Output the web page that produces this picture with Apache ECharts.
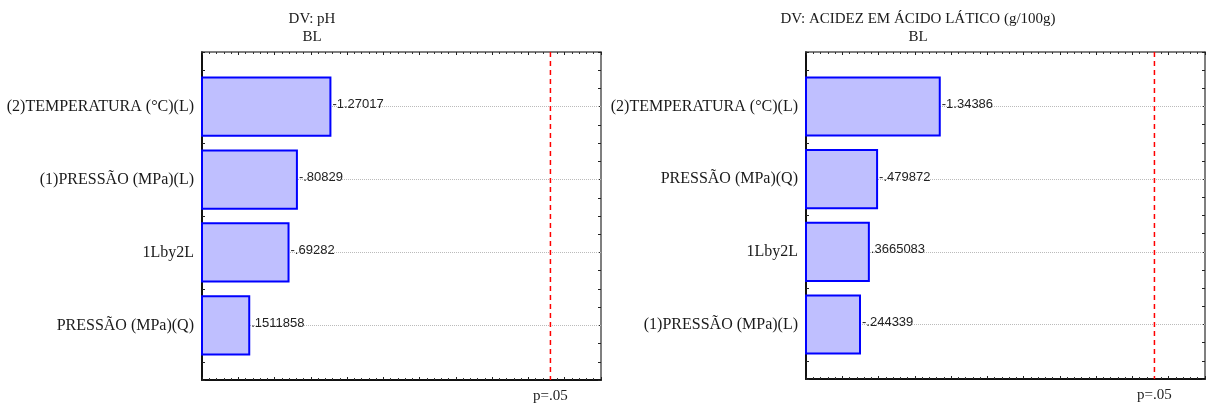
<!DOCTYPE html>
<html><head><meta charset="utf-8">
<script src="https://cdn.jsdelivr.net/npm/echarts@6/dist/echarts.min.js"></script>
<style>html,body{margin:0;padding:0;background:#fff}#c{width:1206px;height:405px}</style>
</head><body><div id="c"></div>
<script>
// ---- data ----
const catsPH = ['(2)TEMPERATURA (°C)(L)', '(1)PRESSÃO (MPa)(L)', '1Lby2L', 'PRESSÃO (MPa)(Q)'];
const effPH = [-1.27017, -0.80829, -0.69282, 0.1511858];
const catsAc = ['(2)TEMPERATURA (°C)(L)', 'PRESSÃO (MPa)(Q)', '1Lby2L', '(1)PRESSÃO (MPa)(L)'];
const effAc = [-1.34386, -0.479872, 0.3665083, -0.244339];
const titlePH = 'DV: pH';
const titleAc = 'DV: ACIDEZ EM ÁCIDO LÁTICO (g/100g)';
const subTitle = 'BL';
const pCrit = 4.303;
const pLabel = 'p=.05';
const xRange = [-0.5, 5.0];
const yRange = [0.25, 4.75];

// ---- helpers ----
const SERIF = '"Liberation Serif", "Times New Roman", serif';
const SANS = '"Liberation Sans", Arial, sans-serif';
const fmt = v => String(v).replace(/^(-?)0\./, '$1.');

function barData(eff) {
  return eff.map((v, i) => [Math.abs(v), i + 1, v]);
}

function renderBar(params, api) {
  const v = api.value(0), idx = api.value(1), signed = api.value(2);
  const p0 = api.coord([xRange[0], idx - 0.4]);
  const p1 = api.coord([v, idx + 0.4]);
  const c = api.coord([v, idx]);
  const y0 = Math.min(p0[1], p1[1]), h = Math.abs(p1[1] - p0[1]);
  return {
    type: 'group',
    children: [
      { type: 'rect', shape: { x: p0[0], y: y0, width: p1[0] - p0[0], height: h },
        style: { fill: '#bfbfff', stroke: '#0000ff', lineWidth: 2 } },
      { type: 'text', x: c[0] + 2, y: c[1] - 2,
        style: { text: fmt(signed), fill: '#222', font: '13px ' + SANS, align: 'left', verticalAlign: 'middle' } }
    ]
  };
}

function makeAxes(gi, cats) {
  const xBase = {
    type: 'value', gridIndex: gi, min: xRange[0], max: xRange[1], interval: 0.5,
    splitLine: { show: false },
    minorTick: { show: true, splitNumber: 5, length: 2, lineStyle: { color: '#333' } },
    axisTick: { inside: true, length: 3, lineStyle: { color: '#222' } }
  };
  const yBase = {
    type: 'value', gridIndex: gi, min: yRange[0], max: yRange[1], interval: 0.25, inverse: true,
    splitLine: { show: false },
    axisTick: { inside: true, length: 3, lineStyle: { color: '#222' } }
  };
  return {
    x: [
      Object.assign({}, xBase, {
        position: 'bottom',
        axisLine: { onZero: false, lineStyle: { color: '#111', width: 2 } },
        axisLabel: { customValues: [pCrit], formatter: () => pLabel, margin: 9,
          fontFamily: SERIF, fontSize: 15, color: '#222' }
      }),
      Object.assign({}, xBase, {
        position: 'top',
        axisLine: { onZero: false, lineStyle: { color: '#555', width: 1.5 } },
        axisLabel: { show: false }
      })
    ],
    y: [
      Object.assign({}, yBase, {
        position: 'left',
        axisLine: { onZero: false, lineStyle: { color: '#111', width: 2 } },
        axisLabel: {
          formatter: v => (Number.isInteger(v) && v >= 1 && v <= cats.length) ? cats[v - 1] : '',
          margin: 8, fontFamily: SERIF, fontSize: 16, color: '#1a1a1a'
        }
      }),
      Object.assign({}, yBase, {
        position: 'right',
        axisLine: { onZero: false, lineStyle: { color: '#555', width: 1.5 } },
        axisLabel: { show: false }
      })
    ]
  };
}

const a0 = makeAxes(0, catsPH);
const a1 = makeAxes(1, catsAc);

function panelSeries(gi, eff, cats) {
  const xi = gi * 2, yi = gi * 2;
  return [
    { type: 'line', xAxisIndex: xi, yAxisIndex: yi, data: [], silent: true, z: 1,
      markLine: { silent: true, symbol: 'none', z: 1, label: { show: false },
        lineStyle: { color: '#bbb', type: 'dotted', width: 1 },
        data: cats.map((c, i) => ({ yAxis: i + 1 })) } },
    { type: 'custom', xAxisIndex: xi, yAxisIndex: yi, renderItem: renderBar,
      data: barData(eff), encode: { x: 0, y: 1 }, z: 6 },
    { type: 'line', xAxisIndex: xi, yAxisIndex: yi, silent: true, symbol: 'none',
      data: [[pCrit, yRange[0]], [pCrit, yRange[1]]],
      lineStyle: { color: '#ff0000', type: [5, 4], width: 1.5 }, z: 7 }
  ];
}

const chart = echarts.init(document.getElementById('c'), null, { renderer: 'canvas' });
chart.setOption({
  animation: false,
  backgroundColor: '#fff',
  title: [
    { text: titlePH + '\n' + subTitle, left: 307, top: 5, textAlign: 'center',
      textStyle: { fontFamily: SERIF, fontSize: 15, fontWeight: 'normal', color: '#1a1a1a', lineHeight: 18 } },
    { text: titleAc + '\n' + subTitle, left: 913, top: 5, textAlign: 'center',
      textStyle: { fontFamily: SERIF, fontSize: 15, fontWeight: 'normal', color: '#1a1a1a', lineHeight: 18 } }
  ],
  grid: [
    { left: 202, top: 52, width: 399, height: 328, containLabel: false },
    { left: 806, top: 52, width: 399, height: 327, containLabel: false }
  ],
  xAxis: [a0.x[0], a0.x[1], Object.assign({}, a1.x[0], { gridIndex: 1 }), Object.assign({}, a1.x[1], { gridIndex: 1 })],
  yAxis: [a0.y[0], a0.y[1], Object.assign({}, a1.y[0], { gridIndex: 1 }), Object.assign({}, a1.y[1], { gridIndex: 1 })],
  series: panelSeries(0, effPH, catsPH).concat(panelSeries(1, effAc, catsAc))
});
</script>
</body></html>
